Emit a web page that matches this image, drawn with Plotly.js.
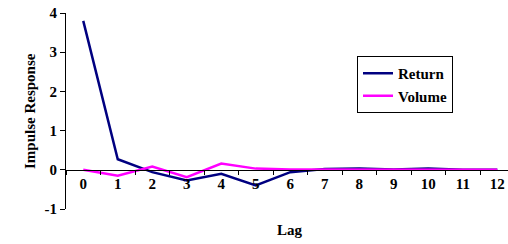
<!DOCTYPE html>
<html>
<head>
<meta charset="utf-8">
<script src="https://cdn.plot.ly/plotly-3.0.1.min.js"></script>
<style>html,body{margin:0;padding:0;background:#fff;}#chart{width:508px;height:244px;}</style>
</head>
<body>
<div id="chart"></div>
<script>
const lags = ['0','1','2','3','4','5','6','7','8','9','10','11','12'];
const returnResp = [3.8, 0.27, -0.06, -0.27, -0.1, -0.4, -0.06, 0.02, 0.03, 0.01, 0.03, 0.0, 0.0];
const volumeResp = [0.0, -0.15, 0.08, -0.19, 0.16, 0.03, 0.01, 0.01, 0.01, 0.01, 0.01, 0.0, 0.0];
const yTicks = [-1, 0, 1, 2, 3, 4];

const fam = "'Liberation Serif', 'Times New Roman', serif";

const data = [
  {x: lags, y: returnResp, type: 'scatter', mode: 'lines', name: 'Return',
   line: {color: '#000080', width: 2.5}},
  {x: lags, y: volumeResp, type: 'scatter', mode: 'lines', name: 'Volume',
   line: {color: '#FF00FF', width: 2.5}}
];

const layout = {
  width: 508, height: 244,
  margin: {l: 66, r: 0, t: 13, b: 35, autoexpand: false},
  paper_bgcolor: '#fff', plot_bgcolor: '#fff',
  font: {family: fam, size: 15, color: '#000', weight: 'bold'},
  showlegend: true,
  legend: {x: (357-66)/442, xanchor: 'left', y: (209-56)/196, yanchor: 'top',
    bordercolor: '#000', borderwidth: 1, bgcolor: '#fff',
    font: {family: fam, size: 15, color: '#000', weight: 'bold'},
    tracegroupgap: 0, itemwidth: 30},
  xaxis: {type: 'category', range: [-0.5, 12.31], anchor: 'free', position: 0.2,
    showline: true, linecolor: '#000', linewidth: 1, showgrid: false, zeroline: false,
    ticks: 'outside', ticklen: 4, tickcolor: '#000', tickson: 'boundaries',
    tickfont: {family: fam, size: 15, color: '#000', weight: 'bold'},
    fixedrange: true},
  yaxis: {range: [-1, 4], tickvals: yTicks, ticktext: yTicks.map(String),
    showline: true, linecolor: '#000', linewidth: 1, showgrid: false, zeroline: false,
    ticks: 'outside', ticklen: 5, tickcolor: '#000',
    tickfont: {family: fam, size: 15, color: '#000', weight: 'bold'},
    fixedrange: true},
  annotations: [
    {text: 'Impulse Response', xref: 'paper', yref: 'paper', x: -36/442, y: 0.5,
     xanchor: 'center', yanchor: 'middle', textangle: -90, showarrow: false,
     font: {family: fam, size: 15, color: '#000', weight: 'bold'}},
    {text: 'Lag', xref: 'paper', yref: 'paper', x: (290-66)/442, y: -(230-209)/196,
     xanchor: 'center', yanchor: 'middle', showarrow: false,
     font: {family: fam, size: 15, color: '#000', weight: 'bold'}}
  ]
};

Plotly.newPlot('chart', data, layout, {displayModeBar: false, staticPlot: true});
</script>
</body>
</html>
